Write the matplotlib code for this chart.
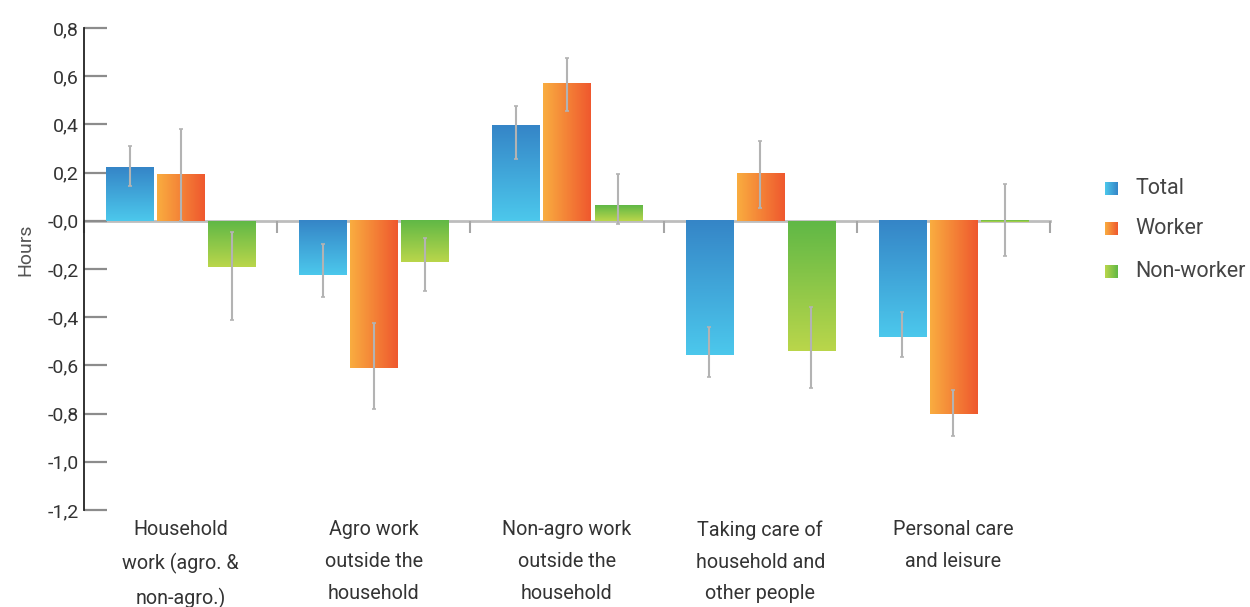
import matplotlib.pyplot as plt
import numpy as np
from matplotlib.colors import LinearSegmentedColormap

plt.rcParams['font.family'] = ['Roboto', 'DejaVu Sans']

categories = ['Household\nwork (agro. &\nnon-agro.)',
              'Agro work\noutside the\nhousehold',
              'Non-agro work\noutside the\nhousehold',
              'Taking care of\nhousehold and\nother people',
              'Personal care\nand leisure']
series = ['Total', 'Worker', 'Non-worker']

total = [0.223, -0.225, 0.397, -0.557, -0.482]
worker = [0.194, -0.610, 0.572, 0.198, -0.802]
nonworker = [-0.190, -0.171, 0.066, -0.539, -0.005]

# confidence interval bounds (lower, upper)
total_lo = [0.145, -0.316, 0.256, -0.647, -0.566]
total_hi = [0.310, -0.098, 0.478, -0.442, -0.377]
worker_lo = [0.000, -0.781, 0.454, 0.052, -0.893]
worker_hi = [0.380, -0.423, 0.675, 0.331, -0.702]
nonworker_lo = [-0.410, -0.290, -0.013, -0.694, -0.147]
nonworker_hi = [-0.045, -0.071, 0.195, -0.358, 0.151]

yticks = [-1.2, -1.0, -0.8, -0.6, -0.4, -0.2, 0.0, 0.2, 0.4, 0.6, 0.8]
ytick_labels = ['-1,2', '-1,0', '-0,8', '-0,6', '-0,4', '-0,2', '-0,0',
                '0,2', '0,4', '0,6', '0,8']

# gradient colour pairs: (start, end), direction
grads = {
    'Total': (('#4cc8ec', '#3585c7'), 'v'),      # light bottom -> dark top
    'Worker': (('#f9ad40', '#ef582e'), 'h'),     # left -> right
    'Non-worker': (('#bad64b', '#60b846'), 'v'),
}

fig = plt.figure(figsize=(12.5, 6.07), dpi=100)
ax = fig.add_axes([0.0672, 0.1598, 0.7728, 0.7941])

width = 0.244
offsets = [0.236, 0.5, 0.765]
x = np.arange(len(categories))
vals = [total, worker, nonworker]
los = [total_lo, worker_lo, nonworker_lo]
his = [total_hi, worker_hi, nonworker_hi]

ramp = np.linspace(0, 1, 256)
for name, v, lo, hi, off in zip(series, vals, los, his, offsets):
    (c0, c1), direction = grads[name]
    cmap = LinearSegmentedColormap.from_list(name, [c0, c1])
    bars = ax.bar(x + off, v, width, facecolor='none', edgecolor='none', zorder=2)
    for rect in bars:
        x0, y0 = rect.get_x(), rect.get_y()
        w, h = rect.get_width(), rect.get_height()
        ylow, yhigh = min(y0, y0 + h), max(y0, y0 + h)
        img = ramp.reshape(-1, 1) if direction == 'v' else ramp.reshape(1, -1)
        ax.imshow(img, cmap=cmap, origin='lower', aspect='auto',
                  extent=[x0, x0 + w, ylow, yhigh], zorder=2, interpolation='bilinear')
    v_arr = np.array(v)
    yerr = [v_arr - np.array(lo), np.array(hi) - v_arr]
    ax.errorbar(x + off, v, yerr=yerr, fmt='none', ecolor='#b3b3b3',
                elinewidth=1.5, capsize=1.5, capthick=1.2, zorder=3)

ax.set_xlim(0, 5)
ax.set_ylim(-1.2, 0.8)

ax.set_yticks(yticks)
ax.set_yticklabels(ytick_labels)
ax.tick_params(axis='y', direction='in', length=16.5, width=1.6, color='#8c8c8c',
               labelsize=14, labelcolor='#333333', pad=4)

ax.set_xticks(np.arange(0, 6))
ax.set_xticklabels([])
ax.tick_params(axis='x', direction='out', length=8.5, width=1.5, color='#a6a6a6')

ax.spines['top'].set_visible(False)
ax.spines['right'].set_visible(False)
ax.spines['left'].set_color('#222222')
ax.spines['left'].set_linewidth(1.3)
ax.spines['bottom'].set_position(('data', 0))
ax.spines['bottom'].set_color('#bdbdbd')
ax.spines['bottom'].set_linewidth(2)
ax.spines['bottom'].set_zorder(1)

for i, cat in enumerate(categories):
    ax.annotate(cat, xy=(i + 0.5, 0), xycoords=('data', 'axes fraction'),
                xytext=(0, -7.5), textcoords='offset points', ha='center', va='top',
                fontsize=14.2, color='#333333', linespacing=1.85)

fig.text(0.02, 0.588, 'Hours', rotation=90, ha='center', va='center',
         fontsize=14, color='#555555')

# legend with small gradient swatches
leg_y = [0.6787, 0.6128, 0.542]
swatch = {'Total': ('#4cc8ec', '#3585c7'),
          'Worker': ('#f9ad40', '#ef582e'),
          'Non-worker': ('#bad64b', '#60b846')}
for name, yb in zip(series, leg_y):
    sax = fig.add_axes([0.884, yb, 0.0104, 0.0214])
    sax.imshow(ramp.reshape(1, -1), aspect='auto',
               cmap=LinearSegmentedColormap.from_list(name + 'sw', swatch[name]))
    sax.axis('off')
    fig.text(0.908, yb + 0.0107, name, ha='left', va='center',
             fontsize=15.5, color='#444444')

fig.savefig('out.png', dpi=100)
